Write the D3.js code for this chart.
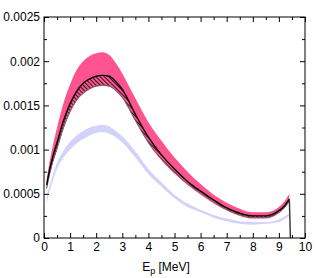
<!DOCTYPE html>
<html>
<head>
<meta charset="utf-8">
<script src="https://cdn.jsdelivr.net/npm/d3@7"></script>
<style>
  body { margin: 0; background: #fff; }
  text { font-family: "Liberation Sans", Arial, sans-serif; }
</style>
</head>
<body>
<div id="chart"></div>
<script>
var energies = [0.1, 0.2, 0.3, 0.5, 0.75, 1, 1.25, 1.5, 1.75, 2, 2.25, 2.5, 2.75, 3, 3.5, 4, 4.5, 5, 5.5, 6, 6.5, 7, 7.5, 8, 8.5, 9, 9.2, 9.4];

// black central curve
var central = [0.00060, 0.00075, 0.00088, 0.00108, 0.00133, 0.00152, 0.00166, 0.00175, 0.00180, 0.00183, 0.00184, 0.00183, 0.00177, 0.00168, 0.00140, 0.00114, 0.00094, 0.00078, 0.00064, 0.00053, 0.00043, 0.00034, 0.00028, 0.00025, 0.00025, 0.00031, 0.00036, 0.00044];
// lower edge of hatched band
var hatchLow = [0.00056, 0.00070, 0.00082, 0.00101, 0.00125, 0.00143, 0.00156, 0.00164, 0.00169, 0.00172, 0.00173, 0.00172, 0.00167, 0.00159, 0.00133, 0.00108, 0.00089, 0.00074, 0.00061, 0.00051, 0.00041, 0.00032, 0.00026, 0.00023, 0.00023, 0.00029, 0.00034, 0.00042];
// pink band
var pinkHigh = [0.00066, 0.00084, 0.00099, 0.00125, 0.00153, 0.00174, 0.00190, 0.00200, 0.00206, 0.00209, 0.00210, 0.00207, 0.00198, 0.00186, 0.00158, 0.00131, 0.00110, 0.00091, 0.00075, 0.00061, 0.00049, 0.00040, 0.00033, 0.00029, 0.00029, 0.00035, 0.00041, 0.00050];
var pinkLow = [0.00055, 0.00069, 0.00081, 0.00100, 0.00124, 0.00142, 0.00155, 0.00163, 0.00168, 0.00171, 0.00172, 0.00171, 0.00166, 0.00158, 0.00132, 0.00107, 0.00088, 0.00073, 0.00060, 0.00049, 0.00039, 0.00031, 0.00025, 0.00022, 0.00022, 0.00028, 0.00033, 0.00041];
// lavender band
var lavHigh = [0.00046, 0.00058, 0.00068, 0.00085, 0.00099, 0.00109, 0.00116, 0.00121, 0.00125, 0.00127, 0.00128, 0.00126, 0.00121, 0.00115, 0.00098, 0.00078, 0.00063, 0.00049, 0.00039, 0.00032, 0.00026, 0.00022, 0.00019, 0.00018, 0.00018, 0.00021, 0.00024, 0.00028];
var lavLow = [0.00040, 0.00051, 0.00061, 0.00078, 0.00091, 0.00100, 0.00107, 0.00112, 0.00116, 0.00119, 0.00120, 0.00118, 0.00114, 0.00108, 0.00091, 0.00072, 0.00058, 0.00045, 0.00035, 0.00029, 0.00023, 0.00019, 0.00016, 0.00015, 0.00016, 0.00018, 0.00021, 0.00025];
// endpoint drop of the black curve
var endE = [9.4, 9.44];
var endV = [0.00044, 0];

var xTicks = [0, 1, 2, 3, 4, 5, 6, 7, 8, 9, 10];
var xMinor = [0.5, 1.5, 2.5, 3.5, 4.5, 5.5, 6.5, 7.5, 8.5, 9.5];
var yTicks = [0, 0.0005, 0.001, 0.0015, 0.002, 0.0025];
var yMinor = [0.00025, 0.00075, 0.00125, 0.00175, 0.00225];

var margin = {top: 17, right: 11, bottom: 40, left: 44},
    width = 316 - margin.left - margin.right,
    height = 278 - margin.top - margin.bottom;

var svg = d3.select("#chart").append("svg")
    .attr("width", 316)
    .attr("height", 278)
  .append("g")
    .attr("transform", "translate(" + margin.left + "," + margin.top + ")");

var x = d3.scaleLinear().domain([0, 10]).range([0, width]);
var y = d3.scaleLinear().domain([0, 0.0025]).range([height, 0]);

var defs = svg.append("defs");
var pat = defs.append("pattern")
    .attr("id", "hatch")
    .attr("patternUnits", "userSpaceOnUse")
    .attr("width", 3).attr("height", 3)
    .attr("patternTransform", "rotate(-45)");
pat.append("line")
    .attr("x1", 0.5).attr("y1", 0).attr("x2", 0.5).attr("y2", 3)
    .attr("stroke", "#2a1a20").attr("stroke-width", 1);

defs.append("clipPath").attr("id", "clip")
  .append("rect").attr("width", width).attr("height", height);

function band(hi, lo) {
  return d3.area()
    .x(function(d, i) { return x(energies[i]); })
    .y0(function(d, i) { return y(lo[i]); })
    .y1(function(d, i) { return y(hi[i]); })
    .curve(d3.curveMonotoneX)(energies);
}
function line(vals) {
  return d3.line()
    .x(function(d, i) { return x(energies[i]); })
    .y(function(d, i) { return y(vals[i]); })
    .curve(d3.curveMonotoneX)(energies);
}

var plot = svg.append("g").attr("clip-path", "url(#clip)");

plot.append("path").attr("d", band(lavHigh, lavLow)).attr("fill", "#d2d2fb");
plot.append("path").attr("d", band(pinkHigh, pinkLow)).attr("fill", "#fd5490");
plot.append("path").attr("d", band(central, hatchLow)).attr("fill", "url(#hatch)");
plot.append("path").attr("d", line(hatchLow))
    .attr("fill", "none").attr("stroke", "#666").attr("stroke-width", 1);
plot.append("path").attr("d", line(central))
    .attr("fill", "none").attr("stroke", "#000").attr("stroke-width", 1.4);
plot.append("path")
    .attr("d", d3.line().x(function(d, i) { return x(endE[i]); }).y(function(d) { return y(d); })(endV))
    .attr("fill", "none").attr("stroke", "#333").attr("stroke-width", 1.4);

// frame
svg.append("rect")
    .attr("width", width).attr("height", height)
    .attr("fill", "none").attr("stroke", "#000").attr("stroke-width", 1);

// axes, ticks pointing inward
var fmt = function(d) { return d === 0 ? "0" : String(d); };
svg.append("g").attr("transform", "translate(0," + height + ")")
    .call(d3.axisBottom(x).tickValues(xTicks).tickSize(-5).tickPadding(4).tickFormat(fmt));
svg.append("g").attr("transform", "translate(0," + height + ")")
    .call(d3.axisBottom(x).tickValues(xMinor).tickSize(-3).tickFormat(""));
svg.append("g")
    .call(d3.axisTop(x).tickValues(xTicks).tickSize(-5).tickFormat(""));
svg.append("g")
    .call(d3.axisTop(x).tickValues(xMinor).tickSize(-3).tickFormat(""));
svg.append("g")
    .call(d3.axisLeft(y).tickValues(yTicks).tickSize(-5).tickPadding(4).tickFormat(fmt));
svg.append("g")
    .call(d3.axisLeft(y).tickValues(yMinor).tickSize(-3).tickFormat(""));
svg.append("g").attr("transform", "translate(" + width + ",0)")
    .call(d3.axisRight(y).tickValues(yTicks).tickSize(-5).tickFormat(""));
svg.append("g").attr("transform", "translate(" + width + ",0)")
    .call(d3.axisRight(y).tickValues(yMinor).tickSize(-3).tickFormat(""));

svg.selectAll(".domain").remove();
svg.selectAll(".tick line").attr("stroke", "#000");
svg.selectAll(".tick text")
    .attr("fill", "#000")
    .style("font-family", "Liberation Sans, Arial, sans-serif")
    .style("font-size", "12px");

var lab = svg.append("text")
    .attr("x", 122).attr("y", height + 33)
    .attr("text-anchor", "middle")
    .attr("fill", "#000")
    .style("font-size", "12px");
lab.append("tspan").text("E");
lab.append("tspan").attr("dy", 3).style("font-size", "9px").text("p");
lab.append("tspan").attr("dy", -3).text(" [MeV]");
</script>
</body>
</html>
